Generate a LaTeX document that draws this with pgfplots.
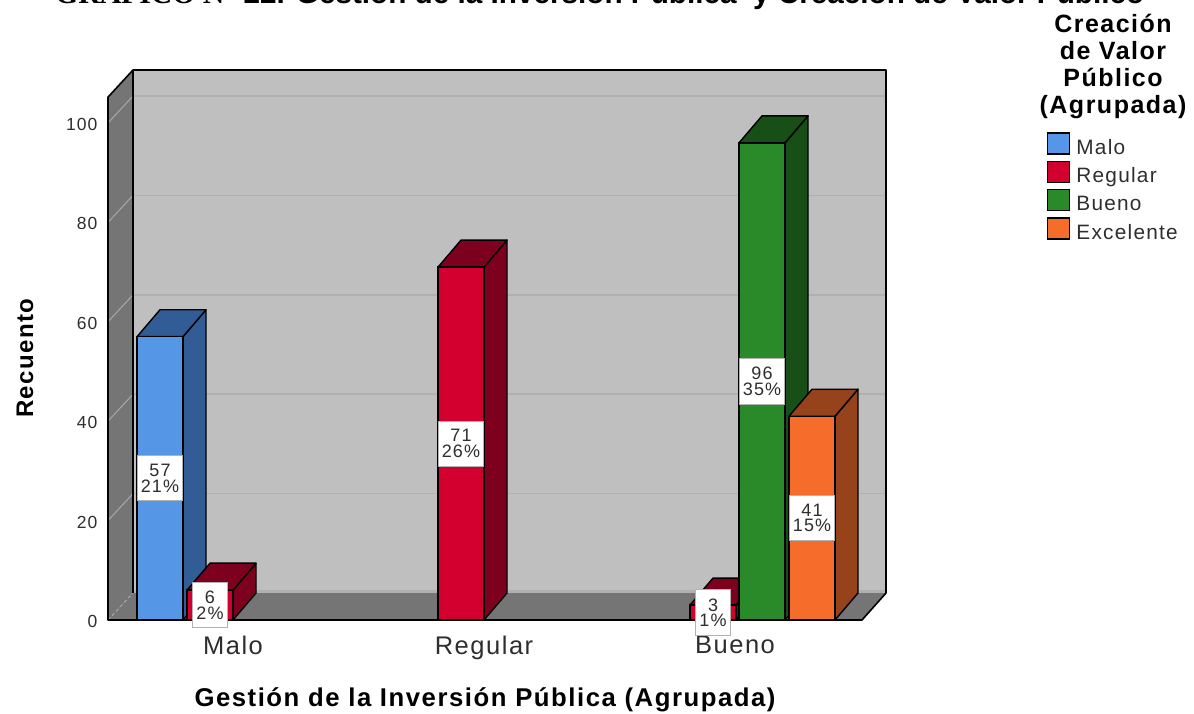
\documentclass[border=0pt]{standalone}
\usepackage{fontspec}
\setmainfont{Liberation Sans}
\newfontfamily\spc[LetterSpace=6]{Liberation Sans}
\newfontfamily\spcb[LetterSpace=6,BoldFont={Liberation Sans Bold}]{Liberation Sans}
\newfontfamily\serifb{Liberation Serif}
\usepackage{pgfplots}
\pgfplotsset{compat=1.18}
\usepackage{pgfplotstable}

\definecolor{wall}{HTML}{BFBFBF}
\definecolor{side}{HTML}{757575}
\definecolor{gridb}{HTML}{B0B0B0}
\definecolor{gridl}{HTML}{A8A8A8}
\definecolor{cblue}{HTML}{5596E6}
\definecolor{cbluedk}{HTML}{325C96}
\definecolor{cred}{HTML}{D3002F}
\definecolor{creddk}{HTML}{7D001E}
\definecolor{cgreen}{HTML}{2A8A2A}
\definecolor{cgreendk}{HTML}{174F17}
\definecolor{corange}{HTML}{F66C2A}
\definecolor{corangedk}{HTML}{96421A}
\definecolor{txt}{HTML}{2E2E2E}

% x = bar centre in px, n = recuento, p = percent
\pgfplotstableread{
x n p
160 57 21
}\tMalo
\pgfplotstableread{
x n p
210 6 2
461 71 26
713 3 1
}\tRegular
\pgfplotstableread{
x n p
762 96 35
}\tBueno
\pgfplotstableread{
x n p
812 41 15
}\tExcelente

\newcommand{\lent}[1]{\smash{\raisebox{-11.5pt}{#1}}}

\pgfplotsset{
  fr/.style={ybar,bar width=46pt,bar shift=0pt,draw=black,line width=1.4pt,
    legend image code/.code={\draw[##1,line width=1.4pt] (0pt,-10.5pt) rectangle (22pt,10.5pt);}},
  face/.style={fill=#1,draw=black,line width=1.4pt,line join=round,forget plot},
  lab/.style={forget plot,draw=none,mark=none,y filter/.expression={y/2},
    point meta=explicit,
    visualization depends on={\thisrow{p}\as\pct},
    nodes near coords={\pgfmathprintnumber{\pgfplotspointmeta}\\\pgfmathprintnumber[fixed,precision=0]{\pct}\%},
    nodes near coords style={anchor=center,fill=white,draw=gray!60,line width=1pt,
      align=center,text=txt,font=\spc\fontsize{18}{15.5}\selectfont,
      inner xsep=3.5pt,inner ysep=8.5pt}},
}

\begin{document}
\begin{tikzpicture}
\path[use as bounding box] (0,0) rectangle (1194pt,713pt);
\clip (0,0) rectangle (1194pt,713pt);
\begin{axis}[
  at={(108pt,93pt)},anchor=origin,
  scale only axis,width=778pt,height=550pt,
  xmin=108,xmax=886,ymin=0,ymax=110.66,
  clip=false,
  axis line style={draw=none},
  major tick length=0pt,
  xtick={233,484,735},xticklabels={Malo,Regular,Bueno},
  ytick={0,20,40,60,80,100},
  /pgf/number format/assume math mode=true,
  xticklabel style={font=\spc\fontsize{25.5}{25.5}\selectfont,text=txt,yshift=-12pt},
  yticklabel style={font=\spc\fontsize{17.5}{17.5}\selectfont,text=txt,xshift=-7pt,yshift=-1.5pt},
  xlabel={Gesti\'on de la Inversi\'on P\'ublica (Agrupada)},
  ylabel={Recuento},
  xlabel style={at={(axis description cs:0.4846,-0.1455)},anchor=center,
    font=\spcb\bfseries\fontsize{25.7}{25.7}\selectfont},
  ylabel style={at={(axis description cs:-0.1067,0.476)},anchor=center,
    font=\spcb\bfseries\fontsize{24}{24}\selectfont},
  legend style={at={(axis cs:1047,98.16)},anchor=north west,draw=none,fill=none,
    inner sep=0pt,outer sep=0pt,
    font=\spc\fontsize{20.8}{20.8}\selectfont,text=txt,
    /tikz/every odd column/.style={column sep=4pt},
    /tikz/row sep=6pt},
  legend cell align=left,
]
% walls and floor
\fill[wall] (axis cs:133,5.43) rectangle (axis cs:886,110.66);
\fill[side] (axis cs:108,0) -- (axis cs:133,5.43) -- (axis cs:133,110.66) -- (axis cs:108,105.2) -- cycle;
\fill[side] (axis cs:108,0) -- (axis cs:862,0) -- (axis cs:886,5.43) -- (axis cs:133,5.43) -- cycle;
% grid
\foreach \v in {20,40,60,80,100}{
  \edef\tmp{\noexpand\draw[gridb,line width=1.5pt] (axis cs:133,\v+5.43) -- (axis cs:886,\v+5.43);
    \noexpand\draw[gridl,line width=1pt] (axis cs:108,\v) -- (axis cs:133,\v+5.43);}
  \tmp
}
\draw[gridb,line width=3pt] (axis cs:133,5.8) -- (axis cs:886,5.8);
\draw[gridl,line width=1pt,dashed] (axis cs:108,0) -- (axis cs:133,5.43);
% outline
\draw[black,line width=1.6pt,line join=round] (axis cs:108,0) -- (axis cs:108,105.2) -- (axis cs:133,110.66) -- (axis cs:886,110.66) -- (axis cs:886,5.43) -- (axis cs:862,0) -- cycle;
\draw[black,line width=1.6pt] (axis cs:133,110.66) -- (axis cs:133,5.43);

% Malo
\addplot[face=cbluedk] coordinates {(183,0)(206,5.43)(206,62.43)(183,57)} -- cycle;
\addplot[face=cbluedk] coordinates {(137,57)(160,62.43)(206,62.43)(183,57)} -- cycle;
\addplot[fr,fill=cblue] table[x=x,y=n] {\tMalo};
\addlegendentry{\lent{Malo}}
% Regular
\addplot[face=creddk] coordinates {(233,0)(256,5.43)(256,11.43)(233,6)} -- cycle;
\addplot[face=creddk] coordinates {(187,6)(210,11.43)(256,11.43)(233,6)} -- cycle;
\addplot[face=creddk] coordinates {(484,0)(507,5.43)(507,76.43)(484,71)} -- cycle;
\addplot[face=creddk] coordinates {(438,71)(461,76.43)(507,76.43)(484,71)} -- cycle;
\addplot[face=creddk] coordinates {(736,0)(759,5.43)(759,8.43)(736,3)} -- cycle;
\addplot[face=creddk] coordinates {(690,3)(713,8.43)(759,8.43)(736,3)} -- cycle;
\addplot[fr,fill=cred] table[x=x,y=n] {\tRegular};
\addlegendentry{\lent{Regular}}
% Bueno
\addplot[face=cgreendk] coordinates {(785,0)(808,5.43)(808,101.43)(785,96)} -- cycle;
\addplot[face=cgreendk] coordinates {(739,96)(762,101.43)(808,101.43)(785,96)} -- cycle;
\addplot[fr,fill=cgreen] table[x=x,y=n] {\tBueno};
\addlegendentry{\lent{Bueno}}
% Excelente
\addplot[face=corangedk] coordinates {(835,0)(858,5.43)(858,46.43)(835,41)} -- cycle;
\addplot[face=corangedk] coordinates {(789,41)(812,46.43)(858,46.43)(835,41)} -- cycle;
\addplot[fr,fill=corange] table[x=x,y=n] {\tExcelente};
\addlegendentry{\lent{Excelente}}

% count and percent boxes
\addplot[lab] table[x=x,y=n,meta=n] {\tMalo};
\addplot[lab] table[x=x,y=n,meta=n] {\tRegular};
\addplot[lab] table[x=x,y=n,meta=n] {\tBueno};
\addplot[lab] table[x=x,y=n,meta=n] {\tExcelente};
\end{axis}
% title, cut by the top edge as in the source
\node[anchor=base west,inner sep=0pt] at (55pt,709pt)
  {\fontsize{29.7}{29.7}\selectfont\bfseries{\serifb GR\'AFICO N\textdegree\ }22. Gesti\'on de la Inversi\'on P\'ublica\ \ y Creaci\'on de Valor P\'ublico};
\node[anchor=north,align=center,inner sep=0pt,font=\spcb\bfseries\fontsize{25}{27}\selectfont] at (1113pt,699pt)
  {Creaci\'on\\de Valor\\P\'ublico\\(Agrupada)};
\end{tikzpicture}
\end{document}
